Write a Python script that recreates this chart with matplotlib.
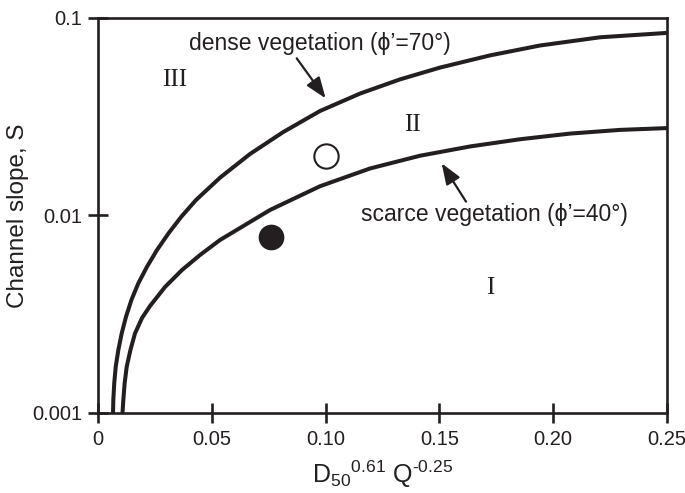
import matplotlib
matplotlib.use('Agg')
import matplotlib.pyplot as plt
from matplotlib.ticker import FixedLocator, FixedFormatter, NullLocator

# ---- data ----
dense_x = [0.00659, 0.00672, 0.00712, 0.00778, 0.00892, 0.01041, 0.01230, 0.01467,
           0.01771, 0.02153, 0.02592, 0.03098, 0.03660, 0.04306, 0.05360, 0.06678,
           0.08128, 0.09754, 0.11511, 0.13269, 0.15026, 0.17223, 0.19420, 0.22056,
           0.25]
dense_s = [0.001, 0.0011637, 0.0014136, 0.0017158, 0.0020845, 0.0025325, 0.0030733,
           0.0037340, 0.0045362, 0.0055055, 0.0066896, 0.0081259, 0.009861, 0.011981,
           0.015539, 0.020484, 0.026411, 0.033815, 0.041424, 0.048889, 0.056091,
           0.064664, 0.072563, 0.079849, 0.084045]

scarce_x = [0.01076, 0.01112, 0.01169, 0.01261, 0.01424, 0.01626, 0.01933, 0.02285,
            0.02944, 0.03691, 0.04482, 0.05360, 0.07557, 0.09754, 0.11951, 0.14148,
            0.16345, 0.18541, 0.20738, 0.22935, 0.25]
scarce_s = [0.001, 0.0011637, 0.0014136, 0.0017158, 0.0020845, 0.0025325, 0.0030270,
            0.0034812, 0.0043449, 0.0052976, 0.0063096, 0.0075158, 0.010662, 0.014065,
            0.017299, 0.020071, 0.022360, 0.024324, 0.025983, 0.027128, 0.027703]

open_x = [0.100]
open_s = [0.0199]
filled_x = [0.076]
filled_s = [0.0078]

x_ticks = [0, 0.05, 0.10, 0.15, 0.20, 0.25]
x_tick_labels = ['0', '0.05', '0.10', '0.15', '0.20', '0.25']
y_ticks = [0.001, 0.01, 0.1]
y_tick_labels = ['0.001', '0.01', '0.1']

region_labels = ['III', 'II', 'I']
region_x = [0.0338, 0.1383, 0.1722]
region_s = [0.0485, 0.0287, 0.00428]

dense_label = 'dense vegetation (\u03d5\u2019=70\u00b0)'
scarce_label = 'scarce vegetation (\u03d5\u2019=40\u00b0)'

# ---- figure ----
INK = '#231f20'
sans = ['Liberation Sans', 'DejaVu Sans']
plt.rcParams['font.family'] = sans
plt.rcParams['mathtext.fontset'] = 'custom'
plt.rcParams['mathtext.rm'] = 'Liberation Sans'
plt.rcParams['mathtext.it'] = 'Liberation Sans:italic'
plt.rcParams['mathtext.bf'] = 'Liberation Sans:bold'
plt.rcParams['mathtext.default'] = 'regular'

fig = plt.figure(figsize=(6.85, 4.93), dpi=100)
ax = fig.add_axes([0.1431, 0.1623, 0.9737 - 0.1431, 0.9635 - 0.1623])
ax.set_yscale('log')
ax.set_xlim(0, 0.25)
ax.set_ylim(0.001, 0.1)

ax.plot(dense_x, dense_s, color=INK, lw=2.9, solid_capstyle='butt', solid_joinstyle='round')
ax.plot(scarce_x, scarce_s, color=INK, lw=2.9, solid_capstyle='butt', solid_joinstyle='round')

ax.plot(open_x, open_s, 'o', ms=17.5, mfc='white', mec=INK, mew=1.5)
ax.plot(filled_x, filled_s, 'o', ms=18.5, mfc=INK, mec=INK, mew=0)

for lab, xx, ss in zip(region_labels, region_x, region_s):
    ax.text(xx, ss, lab, family=['Liberation Serif', 'DejaVu Serif'], fontsize=18,
            ha='center', va='center', color=INK)

# annotations
ax.text(0.0974, 0.0747, dense_label, fontsize=16.5, ha='center', va='center',
        color=INK, family=sans)
ax.annotate('', xy=(0.1000, 0.0392), xytext=(0.0873, 0.0625),
            arrowprops=dict(arrowstyle='-|>,head_length=0.85,head_width=0.32',
                            mutation_scale=15, lw=1.6, color=INK,
                            shrinkA=0, shrinkB=0))
ax.text(0.1740, 0.01006, scarce_label, fontsize=16.5, ha='center', va='center',
        color=INK, family=sans)
ax.annotate('', xy=(0.1510, 0.01838), xytext=(0.1617, 0.01175),
            arrowprops=dict(arrowstyle='-|>,head_length=0.85,head_width=0.32',
                            mutation_scale=15, lw=1.6, color=INK,
                            shrinkA=0, shrinkB=0))

# axes styling
for sp in ax.spines.values():
    sp.set_linewidth(1.9)
    sp.set_color(INK)

ax.xaxis.set_major_locator(FixedLocator(x_ticks))
ax.xaxis.set_major_formatter(FixedFormatter(x_tick_labels))
ax.xaxis.set_minor_locator(NullLocator())
ax.yaxis.set_major_locator(FixedLocator(y_ticks))
ax.yaxis.set_major_formatter(FixedFormatter(y_tick_labels))
ax.yaxis.set_minor_locator(NullLocator())
ax.tick_params(axis='both', which='major', direction='inout', length=15, width=1.9,
               colors=INK, labelsize=14.5, top=False, right=False)
ax.tick_params(axis='x', pad=5)
ax.tick_params(axis='y', pad=4)

ax.set_xlabel('D$_{50}$$^{0.61}$ Q$^{\u2010 0.25}$', fontsize=18, color=INK, labelpad=7)
ax.set_ylabel('Channel slope, S', fontsize=17.5, color=INK, labelpad=2)

fig.savefig('out.png', dpi=100)
